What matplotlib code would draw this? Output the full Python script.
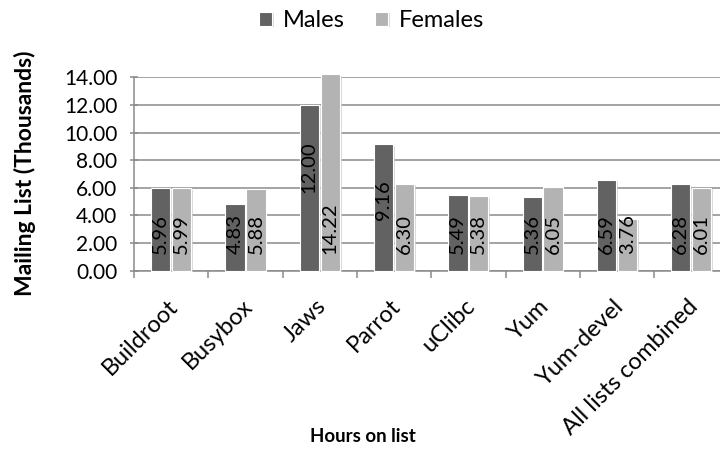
import matplotlib
matplotlib.use("Agg")
import matplotlib.pyplot as plt
import matplotlib.patheffects as pe
import matplotlib.transforms as mtransforms
import numpy as np

plt.rcParams['font.family'] = ['Lato', 'DejaVu Sans']

categories = ["Buildroot", "Busybox", "Jaws", "Parrot", "uClibc", "Yum", "Yum-devel", "All lists combined"]
males = [5.96, 4.83, 12.00, 9.16, 5.49, 5.36, 6.59, 6.28]
females = [5.99, 5.88, 14.22, 6.30, 5.38, 6.05, 3.76, 6.01]
yticks = [0, 2, 4, 6, 8, 10, 12, 14]

male_col = "#626262"
female_col = "#b3b3b3"
grid_col = "#8a8a8a"

fig = plt.figure(figsize=(7.2, 4.57), dpi=100)
# plot area is wider than the picture: the right edge is cropped as in the reference
ax = fig.add_axes([0.1861, 0.408, 0.8256, 0.4228])

x = np.arange(len(categories))
w = 0.26
off = 0.141
shadow = [pe.SimplePatchShadow(offset=(1.2, -1.2), shadow_rgbFace="#c8c8c8", alpha=0.7), pe.Normal()]

bm = ax.bar(x - off, males, width=w, color=male_col, edgecolor="white", linewidth=0.8,
            label="Males", zorder=3, clip_on=False)
bf = ax.bar(x + off, females, width=w, color=female_col, edgecolor="white", linewidth=0.8,
            label="Females", zorder=3, clip_on=False)
for b in list(bm) + list(bf):
    b.set_path_effects(shadow)

lab_kw = dict(textcoords="offset points", rotation=90, ha="center", fontsize=14.5,
              color="black", zorder=4, annotation_clip=False)

# males: inside end; females: inside base
male_labels = []
for p, v in zip(x - off, males):
    t = ax.annotate(f"{v:.2f}", (p, v), xytext=(0, -26), va="top", **lab_kw)
    male_labels.append(t)
for p, v in zip(x + off, females):
    ax.annotate(f"{v:.2f}", (p, 0), xytext=(0, 12.2), va="bottom", **lab_kw)

ax.set_xlim(-0.5, len(categories) - 0.5)
ax.set_ylim(0, 14)
ax.set_yticks(yticks)
ax.set_yticklabels([f"{t:.2f}" for t in yticks], fontsize=15)
ax.yaxis.grid(True, color=grid_col, linewidth=1.1, zorder=0)
ax.set_axisbelow(True)

ax.set_xticks(x)
ax.set_xticklabels(categories, rotation=45, ha="right", va="top", rotation_mode="anchor", fontsize=17)
ax.tick_params(axis="x", which="major", length=0, pad=18)
shift = mtransforms.ScaledTranslation(-4 / 100, 0, fig.dpi_scale_trans)
for lbl in ax.get_xticklabels():
    lbl.set_transform(lbl.get_transform() + shift)
ax.set_xticks(np.arange(-0.5, len(categories)), minor=True)
ax.tick_params(axis="x", which="minor", length=5, color=grid_col, width=1.1)
ax.tick_params(axis="y", length=6, direction="inout", color=grid_col, width=1.1, pad=9)

for s in ["top", "right"]:
    ax.spines[s].set_visible(False)
for s in ["left", "bottom"]:
    ax.spines[s].set_color(grid_col)
    ax.spines[s].set_linewidth(1.1)

fig.text(0.035, 0.62, "Mailing List (Thousands)", rotation=90, ha="center", va="center",
         fontsize=16.5, fontweight="bold")
fig.text(0.504, 0.044, "Hours on list", ha="center", va="center", fontsize=13.5, fontweight="bold")

fig.legend(loc="center", bbox_to_anchor=(0.516, 0.955), ncol=2, frameon=False,
           fontsize=17, handlelength=0.55, handleheight=0.55, handletextpad=0.45,
           columnspacing=1.3, borderaxespad=0)

# male labels that would run below the base get pushed back up (as Excel does)
fig.canvas.draw()
base = ax.transData.transform((0, 0))[1]
for t in male_labels:
    bb = t.get_window_extent()
    if bb.y0 < base + 17:
        t.xy = (t.xy[0], 0)
        t.xyann = (0, 12.2)
        t.set_va("bottom")

fig.savefig("out.png", dpi=100)
